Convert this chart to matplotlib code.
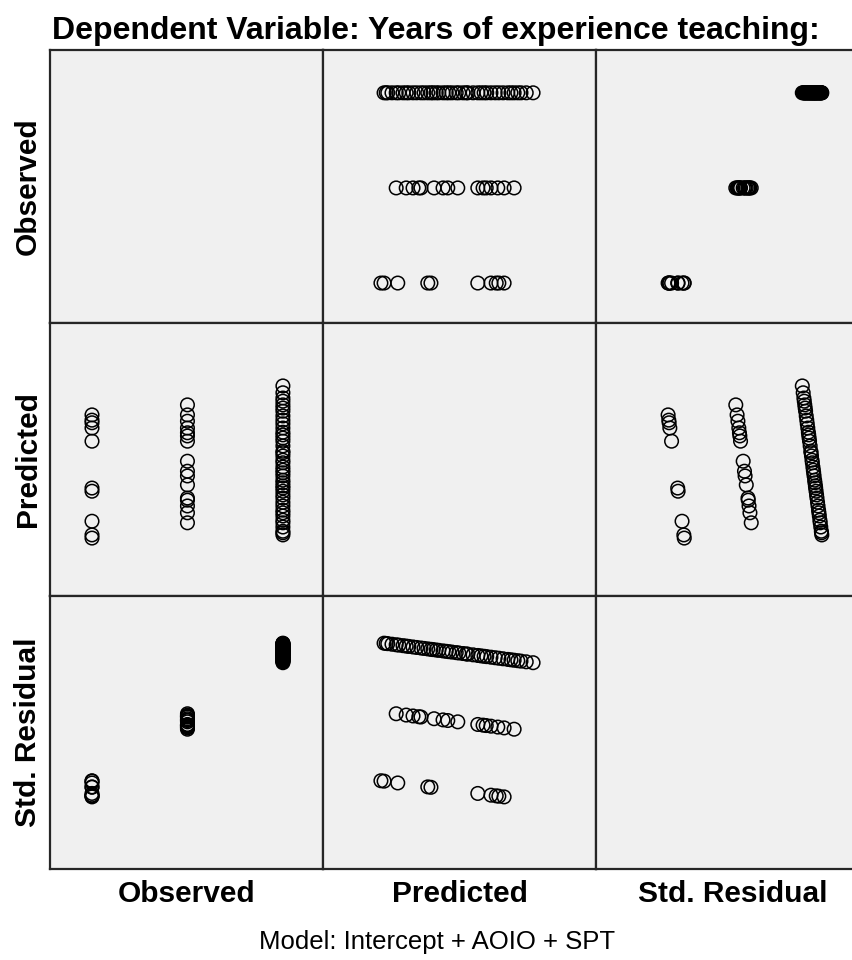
import numpy as np
import matplotlib
matplotlib.use("Agg")
import matplotlib.pyplot as plt

plt.rcParams['font.family'] = ['Liberation Sans', 'DejaVu Sans']

# observed levels of the dependent variable
obs_levels = [1, 2, 3]

# predicted values per observed group
pred_obs1 = [2.350, 2.356, 2.382, 2.439, 2.445, 2.534, 2.559, 2.569, 2.574, 2.584]
pred_obs2 = [2.379, 2.398, 2.411, 2.422, 2.426, 2.451, 2.468, 2.477, 2.496,
             2.534, 2.544, 2.550, 2.559, 2.572, 2.584, 2.603]
pred_obs3 = [2.356, 2.360, 2.363, 2.371, 2.379, 2.384, 2.392, 2.398, 2.403,
             2.411, 2.418, 2.426, 2.432, 2.439, 2.445, 2.449, 2.455, 2.460,
             2.468, 2.474, 2.479, 2.485, 2.493, 2.498, 2.506, 2.512, 2.515,
             2.525, 2.534, 2.540, 2.546, 2.551, 2.559, 2.567, 2.574, 2.582,
             2.591, 2.597, 2.603, 2.610, 2.616, 2.626, 2.639]
resid_sd = 0.7   # root MSE used for standardising

var_names = ["Observed", "Predicted", "Std. Residual"]
title = "Dependent Variable: Years of experience teaching:"
footnote = "Model: Intercept + AOIO + SPT"

groups = [pred_obs1, pred_obs2, pred_obs3]
observed = np.concatenate([[lv] * len(g) for lv, g in zip(obs_levels, groups)]).astype(float)
predicted = np.concatenate(groups)
std_resid = (observed - predicted) / resid_sd
values = [observed, predicted, std_resid]

xlims = [(0.56, 3.42), (2.24, 2.7585), (-3.756, 1.897)]
ylims = [(0.58, 3.45), (2.24, 2.7585), (-3.756, 1.897)]

W, H = 853, 960
fig = plt.figure(figsize=(W / 100, H / 100), dpi=100)
fig.patch.set_facecolor('white')

x0, y0, cell = 50, 50, 273
for r in range(3):
    for c in range(3):
        left = (x0 + c * cell) / W
        bottom = 1 - (y0 + (r + 1) * cell) / H
        ax = fig.add_axes([left, bottom, cell / W, cell / H])
        ax.set_facecolor('#f0f0f0')
        for sp in ax.spines.values():
            sp.set_linewidth(1.6)
            sp.set_color('#262626')
        ax.set_xticks([])
        ax.set_yticks([])
        ax.set_xlim(*xlims[c])
        ax.set_ylim(*ylims[r])
        if r != c:
            ax.scatter(values[c], values[r], s=95, facecolors='none',
                       edgecolors='black', linewidths=1.1)

# row and column labels
for i, name in enumerate(var_names):
    centre = x0 + (i + 0.5) * cell
    fig.text(centre / W, 1 - 894 / H, name, ha='center', va='center',
             fontsize=21.5, fontweight='bold')
    fig.text(28 / W, 1 - (y0 + (i + 0.5) * cell) / H, name, ha='center',
             va='center', rotation=90, fontsize=21.5, fontweight='bold')

fig.text(52 / W, 1 - 31 / H, title, ha='left', va='center',
         fontsize=23, fontweight='bold')
fig.text(437 / W, 1 - 942 / H, footnote, ha='center', va='center',
         fontsize=18.5)

fig.savefig("out.png", dpi=100)
